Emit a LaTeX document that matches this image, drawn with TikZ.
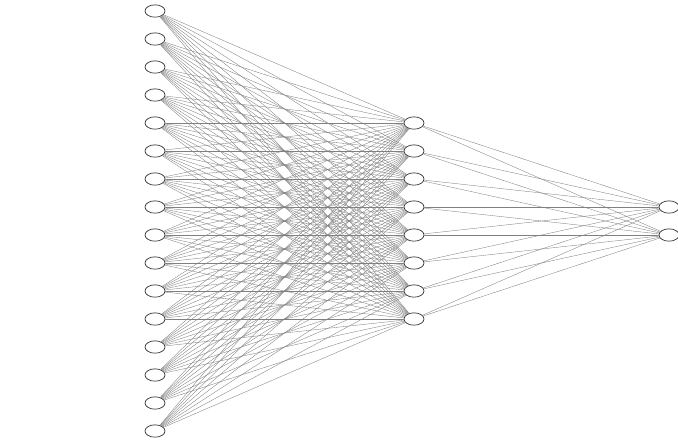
\documentclass[tikz,border=0pt]{standalone}
\usetikzlibrary{shapes.geometric}
\tikzset{
	neuron/.style={ellipse, draw=black!80, line width=0.6pt, fill=white, minimum width=0.6cm, minimum height=0.37cm, inner sep=0pt},
	synapse/.style={draw=black!50, line width=0.3pt}
}
\begin{document}
\begin{tikzpicture}[x=0.03cm, y=-0.03cm, line join=round, line cap=round]
				\useasboundingbox (0,0) rectangle (678,445);
				% lop vao, lop an, lop ra
				\foreach \i in {1,...,16} {
					\node[neuron] (i\i) at (155, {11+28*(\i-1)}) {};
				}
				\foreach \j in {1,...,8} {
					\node[neuron] (h\j) at (414, {123+28*(\j-1)}) {};
				}
				\foreach \k in {1,2} {
					\node[neuron] (o\k) at (669, {207+28*(\k-1)}) {};
				}
				% cac duong noi
				\foreach \i in {1,...,16} {
					\foreach \j in {1,...,8} {
						\draw[synapse] (i\i) -- (h\j);
					}
				}
				\foreach \j in {1,...,8} {
					\foreach \k in {1,2} {
						\draw[synapse] (h\j) -- (o\k);
					}
				}
			\end{tikzpicture}
\end{document}
